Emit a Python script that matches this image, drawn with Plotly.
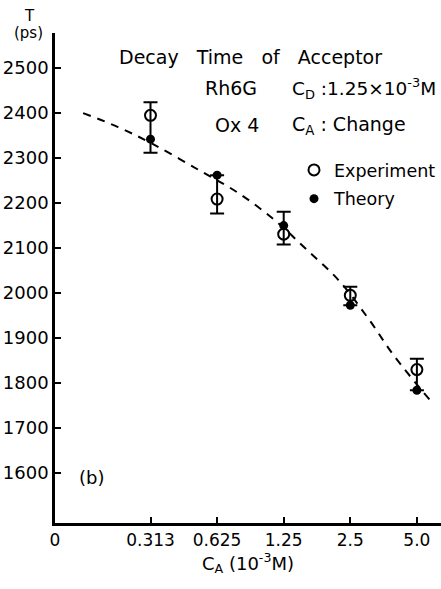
import math
import plotly.graph_objects as go

# Acceptor concentration C_A (10^-3 M) and decay times T (ps)
conc = [0.3125, 0.625, 1.25, 2.5, 5.0]
conc_labels = ["0.313", "0.625", "1.25", "2.5", "5.0"]
t_experiment = [2395, 2209, 2131, 1995, 1830]
err_plus = [29, 53, 50, 19, 24]
err_minus = [83, 32, 23, 22, 46]
t_theory = [2342, 2262, 2150, 1973, 1784]

# Smooth guide curve through the theory values
curve_conc = [0.155, 0.223, 0.321, 0.523, 0.793, 1.164, 1.56, 2.20, 3.00, 3.95, 5.73]
curve_t = [2400, 2369, 2331, 2272, 2220, 2158, 2100, 2030, 1945, 1860, 1762]

y_ticks = [1600, 1700, 1800, 1900, 2000, 2100, 2200, 2300, 2400, 2500]

FONT = "DejaVu Sans"
W, H = 441, 589
ML, MR, MT, MB = 55, 0, 33, 66
PW, PH = W - ML - MR, H - MT - MB


def fx(p):
    return (p - ML) / PW


def fy(p):
    return (H - MB - p) / PH


# log-spaced concentration axis with a broken origin labelled "0"
x_lo = conc[0] * 2 ** -1.434
x_hi = conc[0] * 2 ** 4.362
x_range = [math.log10(x_lo), math.log10(x_hi)]

fig = go.Figure()

fig.add_trace(go.Scatter(
    x=curve_conc, y=curve_t, mode="lines", showlegend=False,
    line=dict(color="black", width=2, dash="8px,7px", shape="spline"),
    hoverinfo="skip",
))

fig.add_trace(go.Scatter(
    x=conc, y=t_experiment, mode="markers", name="Experiment",
    legendgroup="exp",
    marker=dict(symbol="circle-open", size=11, color="black",
                line=dict(width=2, color="black")),
    error_y=dict(type="data", array=err_plus, arrayminus=err_minus,
                 color="black", thickness=2, width=7),
))

fig.add_trace(go.Scatter(
    x=conc, y=t_theory, mode="markers", name="Theory",
    legendgroup="th",
    marker=dict(symbol="circle", size=9, color="black"),
))

SP = "\u00a0"
annotations = [
    dict(text="T", x=fx(29), y=fy(16), size=15),
    dict(text="(ps)", x=fx(28), y=fy(33), size=15),
    dict(text=f"Decay{SP*3}Time{SP*3}of{SP*3}Acceptor", x=fx(117), y=fy(57), size=19, xanchor="left"),
    dict(text="Rh6G", x=fx(203), y=fy(88), size=19, xanchor="left"),
    dict(text="C<sub>D</sub> :1.25×10<sup>-3</sup>M", x=fx(290), y=fy(88), size=18.5, xanchor="left"),
    dict(text="Ox 4", x=fx(213), y=fy(125), size=19, xanchor="left"),
    dict(text="C<sub>A</sub> : Change", x=fx(290), y=fy(125), size=19, xanchor="left"),
    dict(text="(b)", x=fx(77), y=fy(477), size=18, xanchor="left"),
]
ann_objs = []
for a in annotations:
    ann_objs.append(dict(
        text=a["text"], x=a["x"], y=a["y"], xref="paper", yref="paper",
        xanchor=a.get("xanchor", "center"), yanchor="middle", showarrow=False,
        font=dict(family=FONT, size=a["size"], color="black"),
    ))

fig.update_layout(
    width=W, height=H,
    margin=dict(l=ML, r=MR, t=MT, b=MB, autoexpand=False),
    paper_bgcolor="white", plot_bgcolor="white",
    font=dict(family=FONT, size=18, color="black"),
    annotations=ann_objs,
    legend=dict(
        x=fx(294), y=fy(152), xanchor="left", yanchor="top",
        font=dict(family=FONT, size=17.5, color="black"),
        bgcolor="rgba(0,0,0,0)", tracegroupgap=3,
    ),
    xaxis=dict(
        type="log", range=x_range,
        tickmode="array",
        tickvals=[x_lo] + conc, ticktext=["0"] + conc_labels,
        ticks="inside", ticklen=6, tickwidth=2, tickcolor="black",
        showline=True, linewidth=2.5, linecolor="black",
        showgrid=False, zeroline=False,
        tickfont=dict(family=FONT, size=17, color="black"),
        title=dict(text="C<sub>A</sub> (10<sup>-3</sup>M)", standoff=6,
                   font=dict(family=FONT, size=18, color="black")),
    ),
    yaxis=dict(
        range=[1489, 2578],
        tickmode="array", tickvals=y_ticks,
        ticks="inside", ticklen=6, tickwidth=2, tickcolor="black",
        showline=True, linewidth=2.5, linecolor="black",
        showgrid=False, zeroline=False,
        tickfont=dict(family=FONT, size=18, color="black"),
    ),
)

fig.write_html("out.html")
